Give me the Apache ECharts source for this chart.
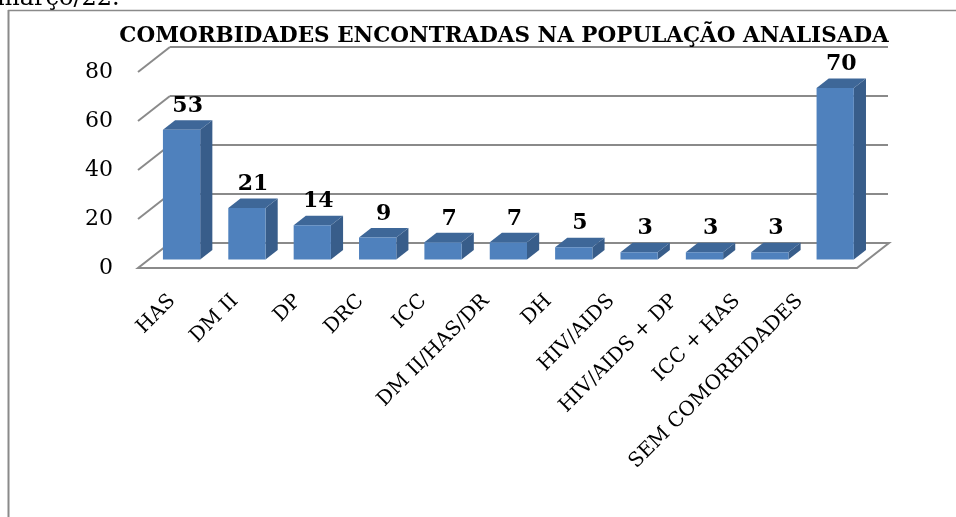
<!DOCTYPE html>
<html>
<head>
<meta charset="utf-8">
<script src="https://cdn.jsdelivr.net/npm/echarts@6/dist/echarts.min.js"></script>
<style>
  html, body { margin: 0; padding: 0; background: #fff; }
  #chart { width: 956px; height: 517px; }
</style>
</head>
<body>
<div id="chart"></div>
<script>
// dados do gráfico
const categorias = ['HAS', 'DM II', 'DP', 'DRC', 'ICC', 'DM II/HAS/DR', 'DH', 'HIV/AIDS', 'HIV/AIDS + DP', 'ICC + HAS', 'SEM COMORBIDADES']
const valores = [53, 21, 14, 9, 7, 7, 5, 3, 3, 3, 70]
const ticksY = [0, 20, 40, 60, 80]

const FONTE = '"DejaVu Serif", "Liberation Serif", serif'
const COR_GRADE = '#8a8a8a'
// deslocamento de profundidade (perspectiva 3D)
const PROF_X = 32
const PROF_Y = -25
const BARRA_INI = 0.34
const BARRA_FIM = 0.72

const chart = echarts.init(document.getElementById('chart'))

// paredes e piso
const renderMoldura = (params, api) => {
  const v = api.value(0)
  const bw = api.size([1, 0])[0]
  const esq = api.coord([0, v])
  const x0 = esq[0] - bw / 2
  const y = esq[1]
  const children = []
  if (v === 0) {
    const dir = api.coord([categorias.length - 1, 0])
    const x1 = dir[0] + bw / 2
    children.push({
      type: 'polygon',
      shape: { points: [[x0, y], [x1, y], [x1 + PROF_X, y + PROF_Y], [x0 + PROF_X, y + PROF_Y]] },
      style: { fill: '#fff', stroke: COR_GRADE, lineWidth: 2 }
    })
  } else {
    children.push({
      type: 'line',
      shape: { x1: x0, y1: y, x2: x0 + PROF_X, y2: y + PROF_Y },
      style: { stroke: COR_GRADE, lineWidth: 2 }
    })
  }
  return { type: 'group', children }
}

// barras 3D
const renderBarra = (params, api) => {
  const i = api.value(0)
  const v = api.value(1)
  const bw = api.size([1, 0])[0] * 0.57
  const base = api.coord([i, 0])
  const topo = api.coord([i, v])
  const ox = PROF_X * BARRA_INI
  const oy = PROF_Y * BARRA_INI
  const dx = PROF_X * (BARRA_FIM - BARRA_INI)
  const dy = PROF_Y * (BARRA_FIM - BARRA_INI)
  const xl = base[0] - bw / 2 + ox
  const xr = base[0] + bw / 2 + ox
  const yb = base[1] + oy
  const yt = topo[1] + oy
  return {
    type: 'group',
    children: [
      {
        type: 'polygon',
        shape: { points: [[xr, yb], [xr + dx, yb + dy], [xr + dx, yt + dy], [xr, yt]] },
        style: { fill: '#385d8a' }
      },
      {
        type: 'polygon',
        shape: { points: [[xl, yt], [xr, yt], [xr + dx, yt + dy], [xl + dx, yt + dy]] },
        style: { fill: '#3e6798' }
      },
      {
        type: 'rect',
        shape: { x: xl, y: yt, width: bw, height: yb - yt },
        style: { fill: '#4f81bd' }
      },
      {
        type: 'text',
        style: {
          text: String(v),
          x: (xl + xr) / 2 + dx / 2,
          y: yt + dy - 3,
          align: 'center',
          verticalAlign: 'bottom',
          font: 'bold 22px ' + FONTE,
          fill: '#000'
        }
      }
    ]
  }
}

const option = {
  animation: false,
  title: {
    text: 'COMORBIDADES ENCONTRADAS NA POPULAÇÃO ANALISADA',
    left: 499,
    top: 20,
    textAlign: 'center',
    textStyle: { fontFamily: FONTE, fontWeight: 'bold', fontSize: 21.5, color: '#000' }
  },
  graphic: [
    {
      type: 'text',
      left: -3,
      top: -13,
      style: { text: 'março/22.', font: '24px ' + FONTE, fill: '#000' }
    },
    {
      type: 'line',
      shape: { x1: 8.5, y1: 10, x2: 8.5, y2: 517 },
      style: { stroke: '#8a8a8a', lineWidth: 2 }
    },
    {
      type: 'line',
      shape: { x1: 8, y1: 10.5, x2: 956, y2: 10.5 },
      style: { stroke: '#8a8a8a', lineWidth: 1.5 }
    }
  ],
  grid: [
    { left: 138, right: 99, top: 72, bottom: 249 },
    { left: 170, right: 68, top: 47, bottom: 274 },
    { left: 141, right: 125, top: 72, bottom: 249 }
  ],
  xAxis: [
    { type: 'category', gridIndex: 0, data: categorias, axisLine: { show: false }, axisTick: { show: false }, axisLabel: { show: false } },
    { type: 'category', gridIndex: 1, data: categorias, axisLine: { show: false }, axisTick: { show: false }, axisLabel: { show: false } },
    {
      type: 'category', gridIndex: 2, data: categorias,
      axisLine: { show: false }, axisTick: { show: false },
      axisLabel: { interval: 0, rotate: 45, margin: 30, fontFamily: FONTE, fontSize: 20, color: '#000' }
    }
  ],
  yAxis: [
    {
      type: 'value', gridIndex: 0, min: 0, max: 80, interval: 20,
      axisLine: { show: false }, axisTick: { show: false }, splitLine: { show: false },
      axisLabel: { margin: 25, fontFamily: FONTE, fontSize: 22, color: '#000' }
    },
    {
      type: 'value', gridIndex: 1, min: 0, max: 80, interval: 20,
      axisLine: { show: false }, axisTick: { show: false }, axisLabel: { show: false },
      splitLine: { lineStyle: { color: COR_GRADE, width: 2 } }
    },
    { type: 'value', gridIndex: 2, min: 0, max: 80, show: false }
  ],
  series: [
    {
      type: 'custom',
      xAxisIndex: 0, yAxisIndex: 0,
      renderItem: renderMoldura,
      data: ticksY.map(t => [t]),
      encode: { y: 0 },
      z: 1
    },
    {
      type: 'custom',
      xAxisIndex: 0, yAxisIndex: 0,
      renderItem: renderBarra,
      data: valores.map((v, i) => [i, v]),
      encode: { x: 0, y: 1 },
      z: 3
    }
  ]
}

chart.setOption(option)
</script>
</body>
</html>
